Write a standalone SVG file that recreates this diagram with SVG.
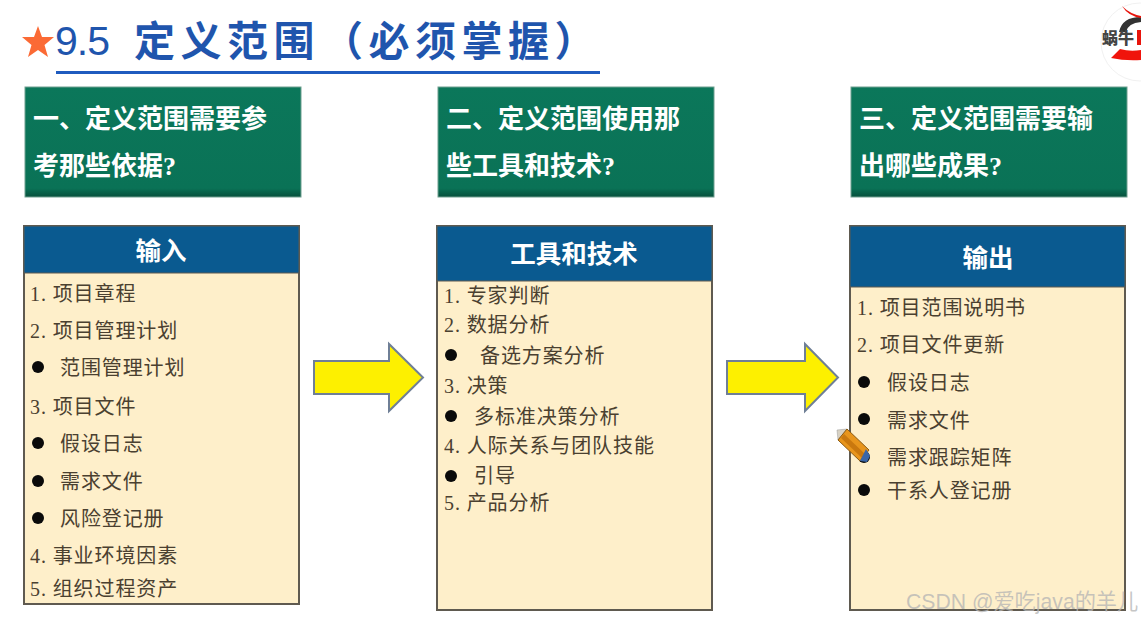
<svg xmlns="http://www.w3.org/2000/svg" width="1141" height="622" viewBox="0 0 1141 622">
<style>
text{font-family:"Liberation Serif","Noto Sans CJK SC",serif}
.title{font-family:"Noto Sans CJK SC",sans-serif;font-size:41px;font-weight:700;fill:#1f55ad}
.q{font-size:26px;font-weight:700;fill:#fff}
.green{fill:url(#g);stroke:#6f9f90;stroke-width:1}
.card{fill:#feefca;stroke:#5f5a50;stroke-width:2}
.head{fill:#0a5a90;stroke:#5f5a50;stroke-width:1}
.ht{font-family:"Noto Sans CJK SC",sans-serif;font-size:25.500px;font-weight:700;fill:#fff;text-anchor:middle}
.i{font-size:20px;letter-spacing:.9px;fill:#4a4030}
.b{fill:#0a0a0a}
.arrow{fill:#fdf000;stroke:#6f7f96;stroke-width:2}
</style>
<defs>
<linearGradient id="g" x1="0" y1="0" x2="0" y2="1">
<stop offset="0" stop-color="#0b775a"/><stop offset=".92" stop-color="#0a7256"/><stop offset="1" stop-color="#06503c"/>
</linearGradient>
<clipPath id="logoClip"><rect x="1090" y="0" width="51" height="90"/></clipPath>
</defs>
<rect width="1141" height="622" fill="#fff"/>

<g id="title">
<polygon fill="#fb6a35" points="38,26 42,37 54,37 44.500,45 48,57 38,50 28,57 31.500,45 22,37 34,37"/>
<text x="55" y="55" style="font-family:'Liberation Sans',sans-serif;font-size:41px;fill:#1f55ad;letter-spacing:-1px">9.5</text>
<text class="title" x="134" y="56" letter-spacing="5.500">定义范围</text>
<text class="title" x="322" y="56" letter-spacing="5.500">（必须掌握）</text>
<rect x="56" y="71" width="544" height="3" fill="#1f5bbf"/>
</g>

<g id="logo" clip-path="url(#logoClip)">
<circle cx="1140" cy="42" r="39" fill="#fff" stroke="#f1f1f1"/>
<path d="M1119,32 Q1122,17 1141,17 L1141,22 Q1128,23 1126,32Z" fill="#333"/>
<path d="M1122,6 Q1130,14 1141,16 L1141,18 Q1128,16 1122,6Z" fill="#e8140c"/>
<path d="M1111,58 L1120,49 Q1130,52 1141,50 L1141,60 Q1125,61 1111,58Z" fill="#f0140c"/>
<text x="1102" y="44" style="font-family:'Noto Sans CJK SC',sans-serif;font-size:16px;font-weight:900;fill:#444">蜗牛</text>
<rect x="1137" y="30" width="4" height="15" fill="#e8140c"/>
</g>

<g id="q1"><rect class="green" x="25" y="87" width="276" height="110"/>
<text class="q" x="33" y="128">一、定义范围需要参</text><text class="q" x="33" y="175">考那些依据?</text></g>
<g id="q2"><rect class="green" x="438" y="87" width="276" height="110"/>
<text class="q" x="446" y="128">二、定义范围使用那</text><text class="q" x="446" y="175">些工具和技术?</text></g>
<g id="q3"><rect class="green" x="851" y="87" width="276" height="110"/>
<text class="q" x="859" y="128">三、定义范围需要输</text><text class="q" x="859" y="175">出哪些成果?</text></g>

<g id="input">
<rect class="card" x="24" y="226" width="275" height="378"/>
<rect class="head" x="24" y="226" width="275" height="47"/>
<text class="ht" x="161" y="260">输入</text>
<text class="i" x="30" y="301">1. 项目章程</text>
<text class="i" x="30" y="338">2. 项目管理计划</text>
<circle class="b" cx="38" cy="367" r="6"/><text class="i" x="60" y="375">范围管理计划</text>
<text class="i" x="30" y="414">3. 项目文件</text>
<circle class="b" cx="38" cy="443" r="6"/><text class="i" x="60" y="451">假设日志</text>
<circle class="b" cx="38" cy="481" r="6"/><text class="i" x="60" y="489">需求文件</text>
<circle class="b" cx="38" cy="518" r="6"/><text class="i" x="60" y="526">风险登记册</text>
<text class="i" x="30" y="563">4. 事业环境因素</text>
<text class="i" x="30" y="596">5. 组织过程资产</text>
</g>

<g id="tools">
<rect class="card" x="437" y="226" width="275" height="384"/>
<rect class="head" x="437" y="226" width="275" height="55"/>
<text class="ht" x="574" y="263">工具和技术</text>
<text class="i" x="444" y="303">1. 专家判断</text>
<text class="i" x="444" y="332">2. 数据分析</text>
<circle class="b" cx="451" cy="355" r="6"/><text class="i" x="480" y="363">备选方案分析</text>
<text class="i" x="444" y="393">3. 决策</text>
<circle class="b" cx="451" cy="416" r="6"/><text class="i" x="474" y="424">多标准决策分析</text>
<text class="i" x="444" y="453">4. 人际关系与团队技能</text>
<circle class="b" cx="451" cy="476" r="6"/><text class="i" x="474" y="483">引导</text>
<text class="i" x="444" y="510">5. 产品分析</text>
</g>

<g id="output">
<rect class="card" x="850" y="226" width="275" height="384"/>
<rect class="head" x="850" y="226" width="275" height="61"/>
<text class="ht" x="988" y="267">输出</text>
<text class="i" x="857" y="315">1. 项目范围说明书</text>
<text class="i" x="857" y="352">2. 项目文件更新</text>
<circle class="b" cx="864" cy="382" r="6"/><text class="i" x="887" y="390">假设日志</text>
<circle class="b" cx="864" cy="419" r="6"/><text class="i" x="887" y="428">需求文件</text>
<circle class="b" cx="864" cy="457" r="6"/><text class="i" x="887" y="465">需求跟踪矩阵</text>
<circle class="b" cx="864" cy="490" r="6"/><text class="i" x="887" y="498">干系人登记册</text>
</g>

<g id="connectors">
<polygon class="arrow" points="314,361 389,361 389,344 423,377.500 389,411 389,394 314,394"/>
<polygon class="arrow" points="727,361 805,361 805,344 838,377.500 805,411 805,394 727,394"/>
</g>

<g id="pencil">
<polygon points="837,430 847,429 838,440" fill="#d8d2c4" stroke="#999" stroke-width=".5"/>
<polygon points="847,429 869,450 860,461 838,440" fill="#e8951c" stroke="#8a5a14" stroke-width="1"/>
<polygon points="844,434 865,454 862,458 841,438" fill="#c9780f"/>
<polygon points="866,449 870,456 867,462 860,461" fill="#3a66a8"/>
</g>

<text id="watermark" x="906" y="609" style="font-family:'Liberation Sans','Noto Sans CJK SC',sans-serif;font-size:21.200px;fill:#b4b4b4;fill-opacity:.75">CSDN @爱吃java的羊儿</text>
</svg>
